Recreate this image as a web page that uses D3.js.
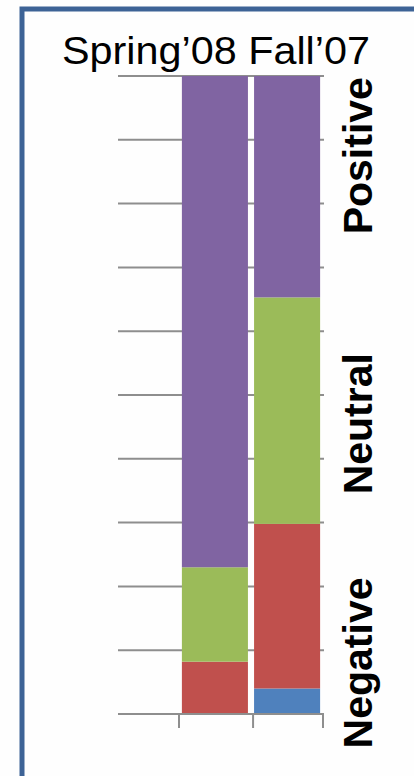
<!DOCTYPE html>
<html>
<head>
<meta charset="utf-8">
<script src="https://cdn.jsdelivr.net/npm/d3@7"></script>
<style>
  html, body { margin: 0; padding: 0; background: #fefefe; }
  svg { display: block; }
</style>
</head>
<body>
<script>
// Survey sentiment shares (percent of responses) per term
const categories = ["Spring\u201908", "Fall\u201907"];
const seriesNames = ["Very negative", "Negative", "Neutral", "Positive"];
const veryNegative = [0, 4];
const negative = [8.2, 25.8];
const neutral = [14.8, 35.5];
const positive = [77, 34.7];
const seriesColors = ["#4f81bd", "#c0504d", "#9bbb59", "#8064a2"];
const yTicks = [0, 10, 20, 30, 40, 50, 60, 70, 80, 90, 100];
// Side labels and the level (in percent) where each one is centred
const sideLabels = ["Positive", "Neutral", "Negative"];
const sideLabelLevels = [87.5, 45.5, 8];

const W = 414, H = 776;
const svg = d3.select("body").append("svg").attr("width", W).attr("height", H);

svg.append("rect").attr("width", W).attr("height", H).attr("fill", "#fefefe");

// Frame along the top and left edge
svg.append("path")
  .attr("d", `M22,${H} V9 H${W}`)
  .attr("fill", "none")
  .attr("stroke", "#3d6396")
  .attr("stroke-width", 5);

const plotLeft = 118, plotRight = 324;
const y = d3.scaleLinear().domain([0, 100]).range([714, 76]);
const x = d3.scaleBand().domain(categories).range([179, 323])
  .paddingInner(0.085).paddingOuter(0.04);

// Horizontal gridlines
svg.append("g").selectAll("line").data(yTicks).join("line")
  .attr("x1", plotLeft).attr("x2", plotRight)
  .attr("y1", d => y(d)).attr("y2", d => y(d))
  .attr("stroke", "#8e8e8e").attr("stroke-width", 2);

// Stacked bars
const rows = categories.map((c, i) => ({
  cat: c,
  "Very negative": veryNegative[i],
  "Negative": negative[i],
  "Neutral": neutral[i],
  "Positive": positive[i]
}));
const stacked = d3.stack().keys(seriesNames)(rows);

svg.append("g").selectAll("g").data(stacked).join("g")
  .attr("fill", (d, i) => seriesColors[i])
  .selectAll("rect").data(d => d).join("rect")
  .attr("x", d => x(d.data.cat))
  .attr("width", x.bandwidth())
  .attr("y", d => y(d[1]))
  .attr("height", d => y(d[0]) - y(d[1]));

// Category axis line and tick marks at band boundaries
const step = x.step();
const tickXs = [x.range()[0], x(categories[1]) - 1, x.range()[1]];
svg.append("line")
  .attr("x1", plotLeft).attr("x2", plotRight)
  .attr("y1", y(0)).attr("y2", y(0))
  .attr("stroke", "#8e8e8e").attr("stroke-width", 2);
svg.append("g").selectAll("line").data(tickXs).join("line")
  .attr("x1", d => d).attr("x2", d => d)
  .attr("y1", y(0)).attr("y2", y(0) + 14)
  .attr("stroke", "#8e8e8e").attr("stroke-width", 2);

// Term names across the top
svg.append("text")
  .attr("x", 62).attr("y", 64)
  .attr("font-family", "Liberation Sans, Arial, sans-serif")
  .attr("font-size", 38)
  .attr("fill", "#000")
  .attr("textLength", 308)
  .attr("lengthAdjust", "spacingAndGlyphs")
  .text(categories.join(" "));

// Rotated sentiment labels on the right
svg.append("g").selectAll("text").data(sideLabels).join("text")
  .attr("transform", (d, i) => `translate(372,${y(sideLabelLevels[i])}) rotate(-90)`)
  .attr("text-anchor", "middle")
  .attr("font-family", "Liberation Sans, Arial, sans-serif")
  .attr("font-weight", "bold")
  .attr("font-size", 41)
  .attr("fill", "#000")
  .text(d => d);
</script>
</body>
</html>
